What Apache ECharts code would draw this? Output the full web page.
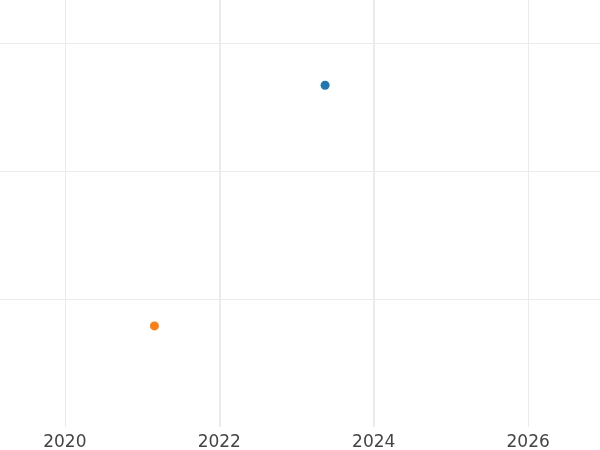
<!DOCTYPE html>
<html>
<head>
<meta charset="utf-8">
<script src="https://cdn.jsdelivr.net/npm/echarts@6/dist/echarts.min.js"></script>
<style>html,body{margin:0;padding:0;background:#fff}#c{width:600px;height:450px}</style>
</head>
<body>
<div id="c"></div>
<script>
var xTicks = [2020, 2022, 2024, 2026];
var boldYears = [2022, 2024];
var seriesNames = ['A', 'B'];
var seriesColors = ['#1f77b4', '#ff7f0e'];
var seriesX = [[2023.37], [2021.16]];
var seriesY = [[2.67], [0.79]];

var chart = echarts.init(document.getElementById('c'));
var series = seriesNames.map(function (n, i) {
  return {
    name: n,
    type: 'scatter',
    symbolSize: 9,
    itemStyle: { color: seriesColors[i], opacity: 1 },
    data: seriesX[i].map(function (x, j) { return [x, seriesY[i][j]]; }),
    z: 5
  };
});
series.push({
  type: 'scatter',
  data: [],
  silent: true,
  markLine: {
    silent: true,
    symbol: ['none', 'none'],
    label: { show: false },
    lineStyle: { color: '#ebebeb', width: 2, type: 'solid' },
    data: boldYears.map(function (y) { return { xAxis: y }; })
  },
  z: 1
});
chart.setOption({
  animation: false,
  grid: { left: 0, right: 0, top: 0, bottom: 23, containLabel: false, outerBoundsMode: 'none' },
  xAxis: {
    type: 'value',
    min: 2019.16,
    max: 2026.93,
    axisLine: { show: false },
    axisTick: { show: false, customValues: xTicks },
    axisLabel: {
      customValues: xTicks,
      formatter: function (v) { return String(Math.round(v)); },
      color: '#444',
      fontSize: 17,
      fontFamily: 'DejaVu Sans',
      margin: 7
    },
    splitLine: { show: true, lineStyle: { color: '#ebebeb', width: 1 } }
  },
  yAxis: {
    type: 'value',
    min: 0,
    max: 3.336,
    interval: 1,
    axisLine: { show: false },
    axisTick: { show: false },
    axisLabel: { show: false },
    splitLine: { show: true, showMinLine: false, showMaxLine: false, lineStyle: { color: '#ebebeb', width: 1 } }
  },
  series: series
});
</script>
</body>
</html>
